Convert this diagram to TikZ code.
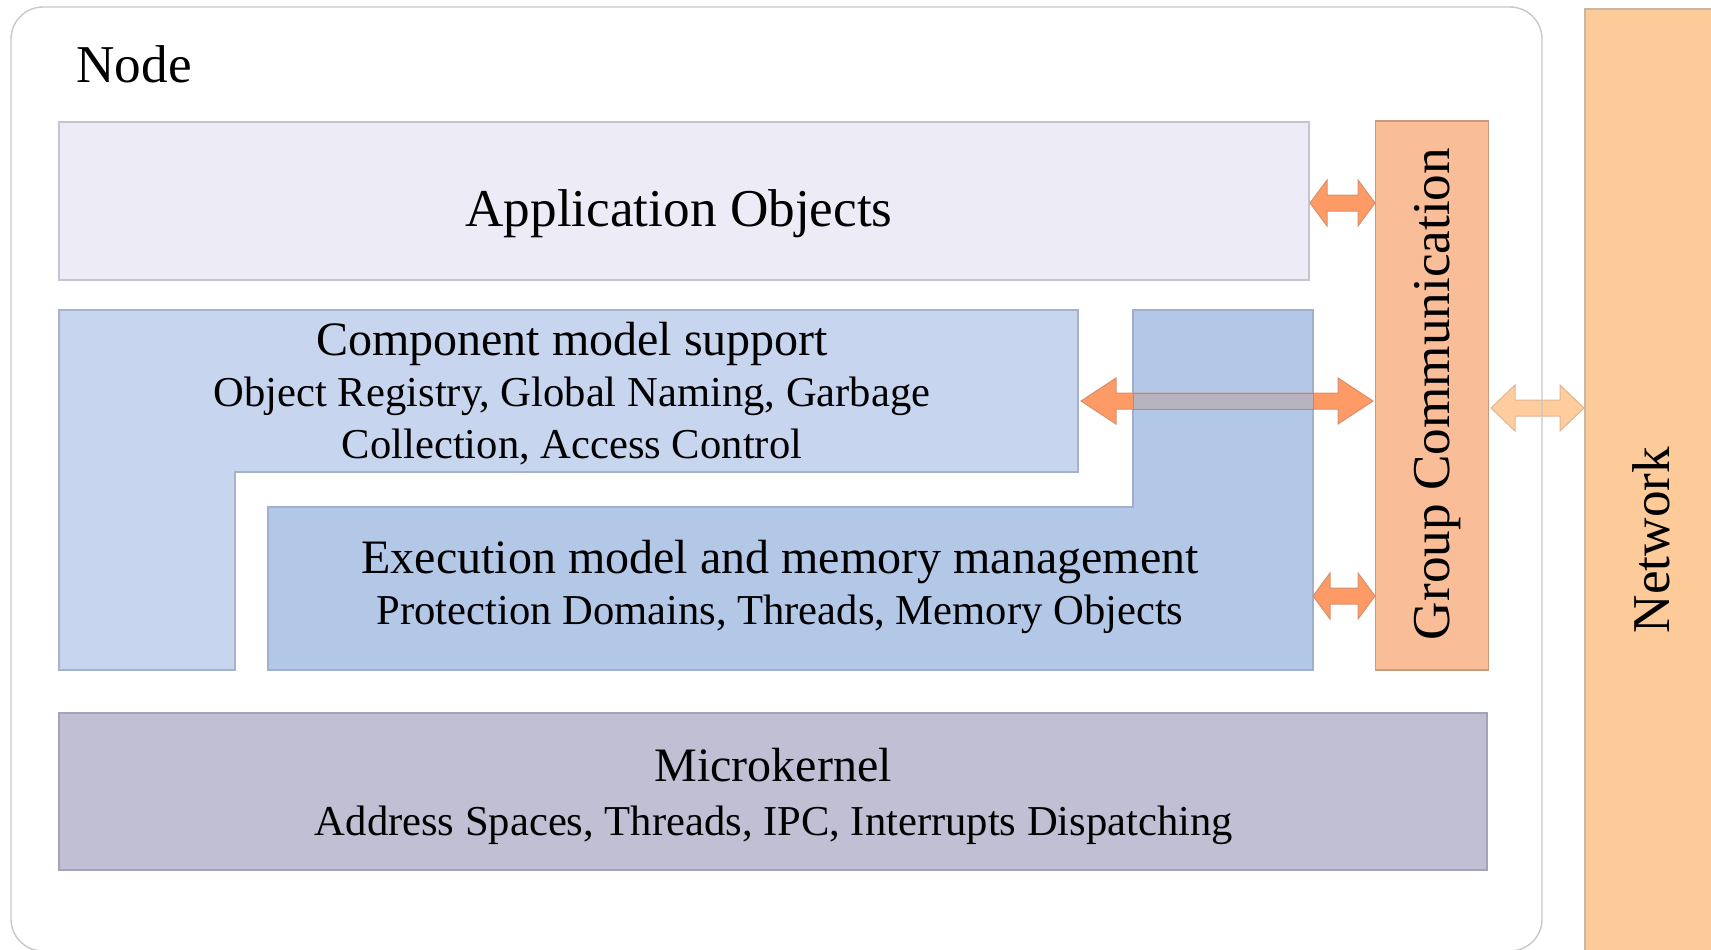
\documentclass[tikz,border=0pt]{standalone}
\usepackage{fontspec}
\setmainfont{Liberation Serif}
\definecolor{outerc}{HTML}{C8C8C8}
\definecolor{appfill}{HTML}{EDEBF6}
\definecolor{appdraw}{HTML}{C6C4D2}
\definecolor{compfill}{HTML}{C7D5EE}
\definecolor{compdraw}{HTML}{A6B2CA}
\definecolor{execfill}{HTML}{B3C7E7}
\definecolor{execdraw}{HTML}{A0B0CC}
\definecolor{mkfill}{HTML}{C0BFD3}
\definecolor{mkdraw}{HTML}{A5A4B6}
\definecolor{gcfill}{HTML}{F9BE98}
\definecolor{gcdraw}{HTML}{C99A7C}
\definecolor{netfill}{HTML}{FDCB9A}
\definecolor{netdraw}{HTML}{C8B8A8}
\definecolor{arrfill}{HTML}{FE9A66}
\definecolor{arrdraw}{HTML}{D8906A}
\definecolor{narrfill}{HTML}{FFCD9D}
\definecolor{narrdraw}{HTML}{DDB592}
\definecolor{shaftgray}{HTML}{B8B3BF}
\tikzset{
  boxline/.style={line width=0.6pt},
  bigtext/.style={font=\fontsize{26.6}{30}\selectfont, inner sep=0pt},
  midtext/.style={font=\fontsize{24}{28}\selectfont, inner sep=0pt},
  smalltext/.style={font=\fontsize{21.3}{25}\selectfont, inner sep=0pt},
  blockarrow/.style={fill=arrfill, draw=arrdraw, line width=0.5pt},
  netarrow/.style={fill=narrfill, draw=narrdraw, line width=0.5pt}
}
% #1 left tip x, #2 right tip x, #3 y, #4 head length, #5 style
\newcommand{\dblarrow}[5]{%
  \path[#5] (#1,#3) -- ({#1+#4},{#3-23}) -- ({#1+#4},{#3-8}) -- ({#2-#4},{#3-8})
    -- ({#2-#4},{#3-23}) -- (#2,#3) -- ({#2-#4},{#3+23}) -- ({#2-#4},{#3+8})
    -- ({#1+#4},{#3+8}) -- ({#1+#4},{#3+23}) -- cycle;}
\begin{document}
\begin{tikzpicture}[x=0.5pt,y=-0.5pt]
\useasboundingbox (0,0) rectangle (1711,949);
% network side
\path[fill=netfill, draw=netdraw, line width=0.6pt] (1585,9) rectangle (1715,955);
\dblarrow{1491}{1584}{408}{24}{netarrow}
% outer node frame
\draw[outerc, line width=0.7pt, rounded corners=16pt] (11,7) rectangle (1542,951);
\node[bigtext, anchor=base west] (nodelbl) at (76,82) {Node};
\node[bigtext, anchor=base, rotate=90] (netlbl) at (1669,540) {Network};
% application objects
\node[boxline, draw=appdraw, fill=appfill, minimum width=625pt, minimum height=79pt, inner sep=0pt] (app) at (684,201) {};
\node[bigtext, anchor=base] (applbl) at (679,226) {Application Objects};
% component model support (L shape)
\path[boxline, draw=compdraw, fill=compfill] (59,310) -- (1078,310) -- (1078,472) -- (235,472) -- (235,670) -- (59,670) -- cycle;
\node[midtext, anchor=base] (complbl) at (572,355) {Component model support};
\node[smalltext, anchor=base] (comp1) at (572,406) {Object Registry, Global Naming, Garbage};
\node[smalltext, anchor=base] (comp2) at (572,458) {Collection, Access Control};
% execution model (inverted L)
\path[boxline, draw=execdraw, fill=execfill] (1133,310) -- (1313,310) -- (1313,670) -- (268,670) -- (268,507) -- (1133,507) -- cycle;
\node[midtext, anchor=base] (execlbl) at (780,573) {Execution model and memory management};
\node[smalltext, anchor=base] (exec1) at (780,624) {Protection Domains, Threads, Memory Objects};
% group communication
\node[boxline, draw=gcdraw, fill=gcfill, minimum width=56.5pt, minimum height=274.5pt, inner sep=0pt] (gc) at (1431.75,395.5) {};
\node[bigtext, anchor=base, rotate=90] (gclbl) at (1449,394) {Group Communication};
% microkernel
\node[boxline, draw=mkdraw, fill=mkfill, minimum width=714pt, minimum height=78.5pt, inner sep=0pt] (mk) at (773,791.5) {};
\node[midtext, anchor=base] (mklbl) at (773,781) {Microkernel};
\node[smalltext, anchor=base] (mk1) at (774,835) {Address Spaces, Threads, IPC, Interrupts Dispatching};
% arrows
\dblarrow{1310}{1375}{203}{17}{blockarrow}
\dblarrow{1081}{1373}{401}{35}{blockarrow}
\path[fill=shaftgray, draw=arrdraw!60!gray, line width=0.4pt] (1133,393) rectangle (1313,409);
\dblarrow{1313}{1375}{596}{17}{blockarrow}
\end{tikzpicture}
\end{document}
